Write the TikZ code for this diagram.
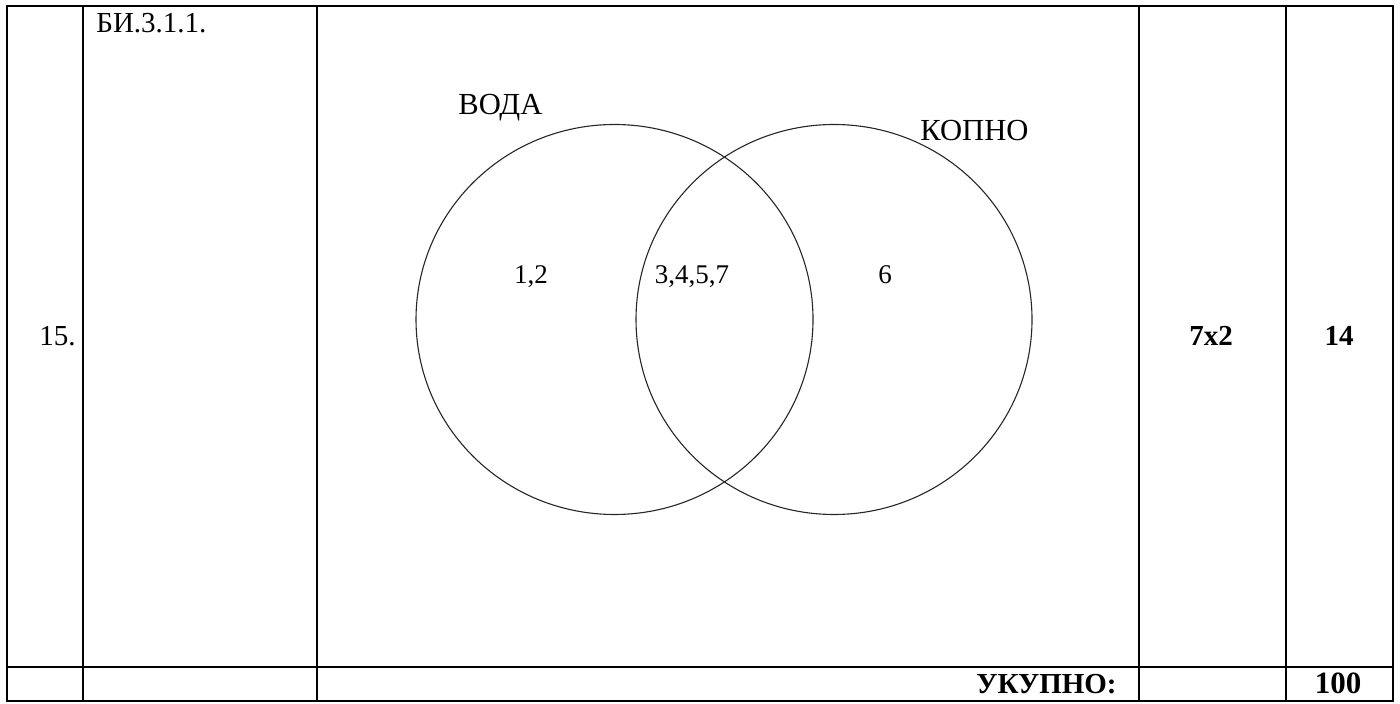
\documentclass[tikz,border=0pt]{standalone}
\usepackage{fontspec}
\setmainfont{Liberation Serif}
\begin{document}
\begin{tikzpicture}[x=0.5pt,y=-0.5pt,
  grid/.style={line width=1pt,line cap=rect},
  ring/.style={line width=0.55pt,draw=black!85},
  txt/.style={font=\fontsize{14.5pt}{16pt}\selectfont,inner sep=0pt},
  lbl/.style={font=\fontsize{15.3pt}{17pt}\selectfont,inner sep=0pt},
  numtxt/.style={font=\fontsize{13.5pt}{15pt}\selectfont,inner sep=0pt},
  btxt/.style={font=\fontsize{14.5pt}{16pt}\selectfont\bfseries,inner sep=0pt}]
\useasboundingbox (0,0) rectangle (1400,704);
% table
\draw[grid] (7,6) rectangle (1393,701);
\draw[grid] (7,667) -- (1393,667);
\foreach \x in {83,317,1139,1286} \draw[grid] (\x,6) -- (\x,701);
% texts
\node[txt,anchor=base west] (code) at (96,33) {БИ.3.1.1.};
\node[txt,anchor=base east] (num) at (76,346) {15.};
\node[btxt,anchor=base] (mult) at (1211,346) {7x2};
\node[btxt,anchor=base] (pts) at (1339,346) {14};
\node[btxt,anchor=base east] (total) at (1117,693) {УКУПНО:};
\node[btxt,anchor=base,font=\fontsize{15.5pt}{17pt}\selectfont\bfseries] (sum) at (1338,693) {100};
% venn
\draw[ring] (614.5,319.5) ellipse [x radius=198.5,y radius=195];
\draw[ring] (834,319.5) ellipse [x radius=198,y radius=195];
\node[lbl,anchor=base west] (voda) at (458,115) {ВОДА};
\node[lbl,anchor=base west] (kopno) at (920,141) {КОПНО};
\node[numtxt,anchor=base] (a) at (531,284) {1,2};
\node[numtxt,anchor=base] (b) at (692,284) {3,4,5,7};
\node[numtxt,anchor=base] (c) at (885,284) {6};
\end{tikzpicture}
\end{document}
